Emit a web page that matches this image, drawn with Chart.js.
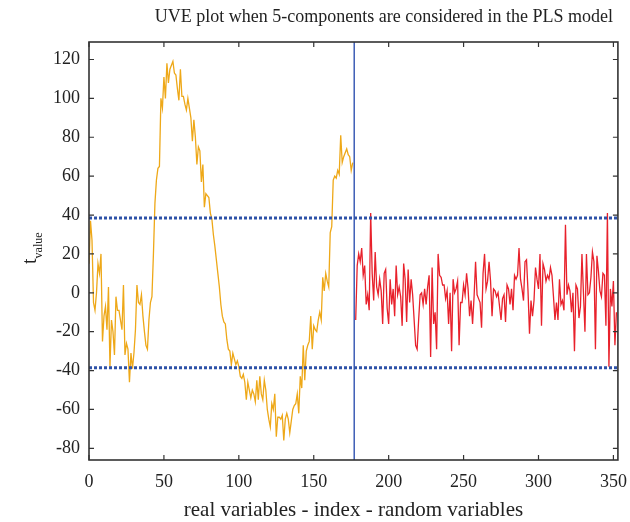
<!DOCTYPE html>
<html>
<head>
<meta charset="utf-8">
<script src="https://cdn.jsdelivr.net/npm/chart.js@4.4.1/dist/chart.umd.min.js"></script>
<style>
  html, body { margin: 0; padding: 0; background: #fff; }
</style>
</head>
<body>
<canvas id="uveChart" width="630" height="522"></canvas>
<script>
// t values of the real variables (index 0..176)
const realValues = [
  15, 37, 27, -5, -9, 0, 15, 10, 20, -25,
  -12, -7, -19, 3, -38, -14, -20, -32, -2, -9,
  -9, -14, -19, 4, -32, -26, -29, -46, -31, -39,
  -31, -19, 4, -5, -6, -1, -12, -20, -27, -29,
  -14, -5, -2, 20, 46, 58, 64, 65, 100, 95,
  111, 100, 118, 108, 115, 117, 119, 113, 112, 105,
  99, 115, 101, 101, 97, 94, 100, 95, 90, 78,
  89, 80, 66, 75, 73, 57, 66, 44, 51, 50,
  49, 41, 38, 30, 24, 17, 10, 3, -6, -12,
  -15, -16, -24, -29, -30, -37, -31, -34, -37, -35,
  -38, -43, -44, -42, -46, -55, -46, -50, -54, -50,
  -52, -56, -45, -55, -43, -52, -55, -45, -50, -60,
  -65, -69, -57, -60, -52, -74, -64, -64, -65, -63,
  -76, -65, -62, -65, -72, -66, -60, -58, -57, -52,
  -62, -43, -49, -27, -45, -30, -27, -25, -12, -29,
  -17, -19, -20, -14, -10, -14, 8, 1, 10, 6,
  3, 31, 34, 58, 60, 59, 63, 61, 81, 67,
  70, 72, 74, 71, 70, 63, 67
];

// t values of the random variables (index 178..352)
const randomValues = [
  -14, 14, 20, 16, 23, 9, 14, -6, -1, -9,
  41, 10, -4, 21, 3, -1, 7, 1, -16, 10,
  12, -8, -16, 7, -6, 2, -12, 14, -1, 3,
  -2, -17, 15, 7, -15, 12, -5, 7, -1, -14,
  -27, -29, -14, -1, 0, -6, 2, -6, 3, 9,
  -33, 13, -16, -10, -29, 20, 9, 8, 4, 4,
  -3, 1, -16, 0, -30, 7, 0, 2, 6, -27,
  -5, -5, 4, -1, 10, 2, -12, -4, -16, -2,
  16, -1, -3, -5, -18, 10, 20, 2, 6, 16,
  6, -12, 2, 1, -2, 0, -7, -14, -3, -1,
  -15, 4, 2, -6, 2, -9, 9, 7, 9, 23,
  7, 2, -4, 16, 17, 1, -21, -4, -12, -4,
  13, 7, 2, 20, -17, 15, 12, 6, 9, 7,
  13, 9, -2, -14, -5, -14, 7, -6, -4, -9,
  35, -1, 4, 1, -10, 0, -30, 4, 2, -13,
  -7, 20, 0, -20, 20, -1, 0, 8, 21, 16,
  -29, 19, 11, 1, -2, 10, 9, -17, 41, -38,
  2, -7, 6, -27, -10
];

const realStart = 0;
const randomStart = 178;
const splitIndex = 177;
const cutoff = 38.5;
const xTicks = [0, 50, 100, 150, 200, 250, 300, 350];
const yTicks = [-80, -60, -40, -20, 0, 20, 40, 60, 80, 100, 120];
const xRange = [0, 353];
const yRange = [-86, 129];

const chartTitle = 'UVE plot when 5-components are considered in the PLS model';
const xTitle = 'real variables - index - random variables';
const serif = "'Liberation Serif', 'DejaVu Serif', serif";

const realPoints = realValues.map((v, i) => ({ x: realStart + i, y: v }));
const randomPoints = randomValues.map((v, i) => ({ x: randomStart + i, y: v }));

// box, inward ticks on all four sides, titles
const frame = {
  id: 'frame',
  afterDraw(chart) {
    const { ctx, chartArea: a, scales: { x, y } } = chart;
    ctx.save();
    ctx.strokeStyle = '#333';
    ctx.lineWidth = 1.2;
    ctx.beginPath();
    xTicks.forEach(v => {
      const px = x.getPixelForValue(v);
      ctx.moveTo(px, a.bottom); ctx.lineTo(px, a.bottom - 5);
      ctx.moveTo(px, a.top); ctx.lineTo(px, a.top + 5);
    });
    yTicks.forEach(v => {
      const py = y.getPixelForValue(v);
      ctx.moveTo(a.left, py); ctx.lineTo(a.left + 5, py);
      ctx.moveTo(a.right, py); ctx.lineTo(a.right - 5, py);
    });
    ctx.stroke();
    ctx.lineWidth = 1.6;
    ctx.strokeRect(a.left, a.top, a.right - a.left, a.bottom - a.top);

    ctx.fillStyle = '#222';
    ctx.font = '18px ' + serif;
    ctx.textAlign = 'center';
    ctx.textBaseline = 'alphabetic';
    ctx.fillText(chartTitle, a.right - 234, 22);
    ctx.font = '21px ' + serif;
    ctx.fillText(xTitle, (a.left + a.right) / 2, 516);

    ctx.translate(36, 264);
    ctx.rotate(-Math.PI / 2);
    ctx.textAlign = 'left';
    ctx.font = '20px ' + serif;
    ctx.fillText('t', 0, 0);
    const tw = ctx.measureText('t').width;
    ctx.font = '12px ' + serif;
    ctx.fillText('value', tw, 6);
    ctx.restore();
  }
};

new Chart(document.getElementById('uveChart'), {
  type: 'line',
  data: {
    datasets: [
      {
        data: [{ x: xRange[0], y: cutoff }, { x: xRange[1], y: cutoff }],
        borderColor: '#2f52a8',
        borderWidth: 3,
        borderDash: [3, 2],
        pointRadius: 0
      },
      {
        data: [{ x: xRange[0], y: -cutoff }, { x: xRange[1], y: -cutoff }],
        borderColor: '#2f52a8',
        borderWidth: 3,
        borderDash: [3, 2],
        pointRadius: 0
      },
      {
        data: [{ x: splitIndex, y: yRange[0] }, { x: splitIndex, y: yRange[1] }],
        borderColor: '#2f52b0',
        borderWidth: 1.4,
        pointRadius: 0
      },
      {
        data: realPoints,
        borderColor: '#eea818',
        borderWidth: 1.3,
        pointRadius: 0
      },
      {
        data: randomPoints,
        borderColor: '#e8212b',
        borderWidth: 1.3,
        pointRadius: 0
      }
    ]
  },
  options: {
    responsive: false,
    animation: false,
    layout: { padding: { top: 42, right: 10, left: 0, bottom: 0 } },
    plugins: {
      legend: { display: false },
      tooltip: { enabled: false },
      title: { display: false }
    },
    scales: {
      x: {
        type: 'linear',
        min: xRange[0],
        max: xRange[1],
        afterBuildTicks: s => { s.ticks = xTicks.map(v => ({ value: v })); },
        afterFit: s => { s.height = 62; },
        grid: { display: false },
        border: { display: false },
        ticks: { padding: 3, color: '#222', font: { family: serif, size: 18 }, maxRotation: 0 }
      },
      y: {
        min: yRange[0],
        max: yRange[1],
        afterBuildTicks: s => { s.ticks = yTicks.map(v => ({ value: v })); },
        afterFit: s => { s.width = 89; },
        grid: { display: false },
        border: { display: false },
        ticks: { padding: 1, color: '#222', font: { family: serif, size: 18 } }
      }
    }
  },
  plugins: [frame]
});
</script>
</body>
</html>
